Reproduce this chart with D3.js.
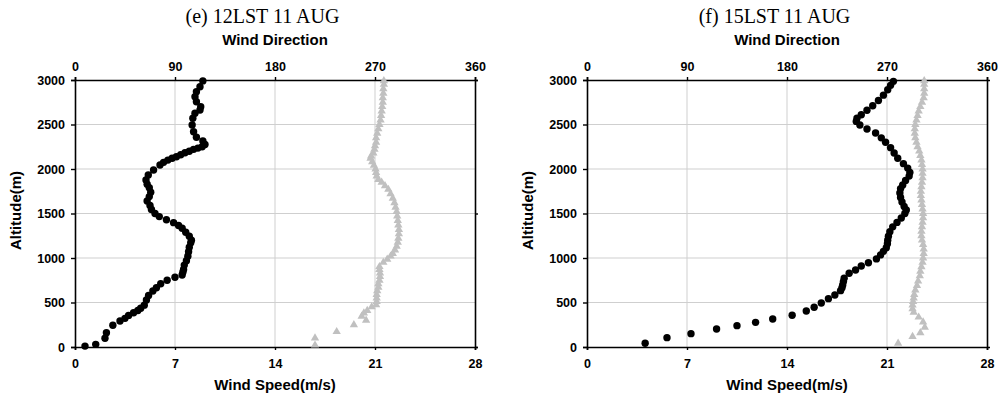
<!DOCTYPE html>
<html>
<head>
<meta charset="utf-8">
<script src="https://cdn.jsdelivr.net/npm/d3@7"></script>
<style>
  body { margin: 0; background: #fff; }
  svg { display: block; }
  .tick text { font-family: "Liberation Sans", Arial, sans-serif; font-weight: bold; font-size: 12.5px; fill: #000; }
</style>
</head>
<body>
<div id="chart"></div>
<script>
// Tick values shared by both panels
const speedTicks = [0, 7, 14, 21, 28];
const dirTicks = [0, 90, 180, 270, 360];
const altTicks = [0, 500, 1000, 1500, 2000, 2500, 3000];
const panelTitles = ["(e) 12LST 11 AUG", "(f) 15LST 11 AUG"];

// (e) wind speed [m/s, altitude m]
const e12Speed = [
  [0.7,10],[1.45,30],[2.1,98],[2.2,160],[2.65,245],[3.15,292],[3.5,322],[3.75,355],[4.1,385],[4.4,410],
  [4.6,435],[4.85,470],[5.0,528],[5.15,580],[5.45,630],[5.7,665],[6.0,710],[6.45,750],[7.0,783],[7.5,809],
  [7.55,840],[7.6,870],[7.65,920],[7.8,970],[7.9,1020],[7.95,1070],[8.0,1120],[8.1,1170],[8.15,1200],[8.0,1245],
  [7.75,1290],[7.5,1335],[7.25,1365],[6.9,1397],[6.4,1430],[5.9,1465],[5.6,1500],[5.35,1545],[5.25,1590],[5.05,1640],
  [5.2,1690],[5.3,1740],[5.2,1790],[5.05,1830],[4.97,1876],[5.13,1933],[5.5,1989],[5.95,2045],[6.2,2075],[6.5,2100],
  [6.8,2120],[7.1,2138],[7.4,2160],[7.7,2183],[8.0,2200],[8.3,2221],[8.6,2235],[8.9,2250],[9.1,2275],[8.95,2315],
  [8.5,2356],[8.3,2419],[8.2,2494],[8.25,2570],[8.4,2626],[8.75,2663],[8.8,2700],[8.5,2756],[8.4,2812],[8.5,2869],
  [8.75,2925],[8.95,2990]
];

// (e) wind direction [deg, altitude m]
const e12Dir = [
  [216,20],[216,100],[235.5,172],[251,250],[262,300],[258,345],[260,380],[263,410],[267,450],[271,475],
  [271.5,510],[271.5,550],[271.5,590],[272,630],[273,670],[273,710],[274,750],[274.5,790],[274.5,830],[274,870],
  [274,902],[277.5,950],[281,985],[284,1020],[286,1050],[288,1090],[289.5,1130],[290.5,1175],[291,1220],[291.5,1270],
  [291.5,1320],[291,1370],[290.5,1420],[290,1470],[289.5,1520],[288.5,1570],[287.5,1620],[286,1670],[284,1720],[282,1770],
  [279,1810],[276,1850],[273,1880],[271.5,1920],[271,1960],[270.5,2000],[269,2040],[267.5,2080],[266,2120],[266.5,2145],
  [268.5,2180],[269.5,2220],[270,2260],[271,2300],[271,2350],[272,2400],[273,2450],[274,2500],[275,2550],[275.5,2600],
  [276,2650],[276.5,2700],[277,2750],[277,2800],[277.5,2850],[277.5,2900],[278,2950],[278,2990]
];

// (f) wind speed [m/s, altitude m]
const f15Speed = [
  [4.07,42],[5.6,105],[7.28,150],[9.07,202],[10.5,240],[11.8,277],[13.0,315],[14.36,356],[15.35,404],[15.9,446],
  [16.4,494],[16.9,543],[17.35,584],[17.75,633],[17.85,665],[17.9,697],[17.95,735],[18.0,772],[18.35,828],[18.8,865],
  [19.2,910],[19.7,947],[20.26,990],[20.55,1035],[20.75,1075],[20.95,1115],[21.03,1160],[21.05,1200],[21.1,1245],[21.2,1296],
  [21.4,1350],[21.7,1400],[22.0,1450],[22.25,1500],[22.35,1540],[22.2,1580],[22.05,1630],[21.95,1680],[21.9,1730],[21.95,1780],
  [22.1,1820],[22.3,1870],[22.55,1920],[22.6,1960],[22.45,2010],[22.15,2060],[21.75,2120],[21.5,2180],[21.25,2240],[20.9,2300],
  [20.6,2350],[20.2,2405],[19.6,2450],[19.1,2495],[18.85,2535],[18.9,2570],[19.2,2610],[19.6,2660],[20.0,2710],[20.4,2770],
  [20.75,2830],[21.05,2890],[21.25,2940],[21.45,2985]
];

// (f) wind direction [deg, altitude m]
const f15Dir = [
  [280,42],[293,116],[300,160],[304,220],[302.5,280],[298.5,335],[294,390],[293,430],[293,470],[293.5,510],
  [294,550],[294.5,590],[295.5,640],[297,690],[298,740],[299.5,800],[300,850],[301,900],[302,950],[302.5,1000],
  [303,1050],[303,1100],[302.5,1150],[301.5,1200],[301,1250],[301,1300],[301.5,1350],[302,1400],[302.5,1450],[302.5,1500],
  [302,1550],[301.5,1600],[301,1650],[300.5,1700],[300.5,1750],[301,1800],[301.5,1850],[302,1900],[302,1950],[302,2000],
  [301.5,2050],[301,2100],[300,2150],[299,2200],[297.5,2250],[296.5,2300],[295.5,2350],[295,2400],[295,2450],[295.5,2500],
  [296.5,2550],[297.5,2600],[298.5,2650],[300,2700],[301.5,2750],[303,2800],[303.5,2850],[303.5,2900],[303.5,2950],[303.5,2990]
];

const W = 998, H = 399;
const plotW = 400, plotH = 267, plotTop = 80;

const svg = d3.select("#chart")
  .append("svg")
  .attr("width", W)
  .attr("height", H);

const panels = [
  {left: 75, title: panelTitles[0], speed: e12Speed, dir: e12Dir, rightTicks: true},
  {left: 587, title: panelTitles[1], speed: f15Speed, dir: f15Dir, rightTicks: false}
];

panels.forEach(p => {
  const g = svg.append("g").attr("transform", `translate(${p.left},${plotTop})`);

  const x = d3.scaleLinear().domain([0, 28]).range([0, plotW]);
  const xDir = d3.scaleLinear().domain([0, 360]).range([0, plotW]);
  const y = d3.scaleLinear().domain([0, 3000]).range([plotH, 0]);

  // Gridlines
  g.append("g").selectAll("line")
    .data(altTicks.slice(1, -1))
    .join("line")
    .attr("x1", 0).attr("x2", plotW)
    .attr("y1", d => y(d)).attr("y2", d => y(d))
    .attr("stroke", "#cfcfcf").attr("stroke-width", 1);
  g.append("g").selectAll("line")
    .data(speedTicks.slice(1, -1))
    .join("line")
    .attr("x1", d => x(d)).attr("x2", d => x(d))
    .attr("y1", 0).attr("y2", plotH)
    .attr("stroke", "#cfcfcf").attr("stroke-width", 1);

  // Axes
  const left = g.append("g")
    .call(d3.axisLeft(y).tickValues(altTicks).tickFormat(d3.format("d")).tickSize(4).tickPadding(6));
  const bottom = g.append("g")
    .attr("transform", `translate(0,${plotH})`)
    .call(d3.axisBottom(x).tickValues(speedTicks).tickFormat(d3.format("d")).tickSize(3).tickPadding(9));
  const top = g.append("g")
    .call(d3.axisTop(xDir).tickValues(dirTicks).tickFormat(d3.format("d")).tickSize(3).tickPadding(6));
  const right = g.append("g")
    .attr("transform", `translate(${plotW},0)`)
    .call(d3.axisRight(y).tickValues(p.rightTicks ? [0, 1500, 3000] : []).tickSize(3).tickFormat(""));

  [left, bottom, top, right].forEach(a => {
    a.select(".domain").attr("stroke", "#000").attr("stroke-width", 1.6);
    a.selectAll(".tick line").attr("stroke", "#000").attr("stroke-width", 1.4);
    a.attr("font-size", null).attr("font-family", null);
  });

  // Wind direction (grey triangles)
  g.append("g").selectAll("path")
    .data(p.dir)
    .join("path")
    .attr("d", d3.symbol(d3.symbolTriangle, 30))
    .attr("transform", d => `translate(${xDir(d[0])},${y(d[1])})`)
    .attr("fill", "#c0c0c0");

  // Wind speed (black dots)
  g.append("g").selectAll("circle")
    .data(p.speed)
    .join("circle")
    .attr("cx", d => x(d[0]))
    .attr("cy", d => y(d[1]))
    .attr("r", 3.7)
    .attr("fill", "#000");

  // Titles and axis labels
  g.append("text")
    .attr("x", plotW / 2 - 12.5)
    .attr("y", 23 - plotTop)
    .attr("text-anchor", "middle")
    .style("font-family", "'Liberation Serif', 'Times New Roman', serif")
    .style("font-size", "20px")
    .text(p.title);

  g.append("text")
    .attr("x", plotW / 2)
    .attr("y", 45 - plotTop)
    .attr("text-anchor", "middle")
    .style("font-family", "'Liberation Sans', Arial, sans-serif")
    .style("font-weight", "bold")
    .style("font-size", "15px")
    .text("Wind Direction");

  g.append("text")
    .attr("x", plotW / 2)
    .attr("y", 390 - plotTop)
    .attr("text-anchor", "middle")
    .style("font-family", "'Liberation Sans', Arial, sans-serif")
    .style("font-weight", "bold")
    .style("font-size", "15px")
    .text("Wind Speed(m/s)");

  g.append("text")
    .attr("transform", `translate(-54,${plotH / 2 - 3}) rotate(-90)`)
    .attr("text-anchor", "middle")
    .style("font-family", "'Liberation Sans', Arial, sans-serif")
    .style("font-weight", "bold")
    .style("font-size", "15px")
    .text("Altitude(m)");
});
</script>
</body>
</html>
